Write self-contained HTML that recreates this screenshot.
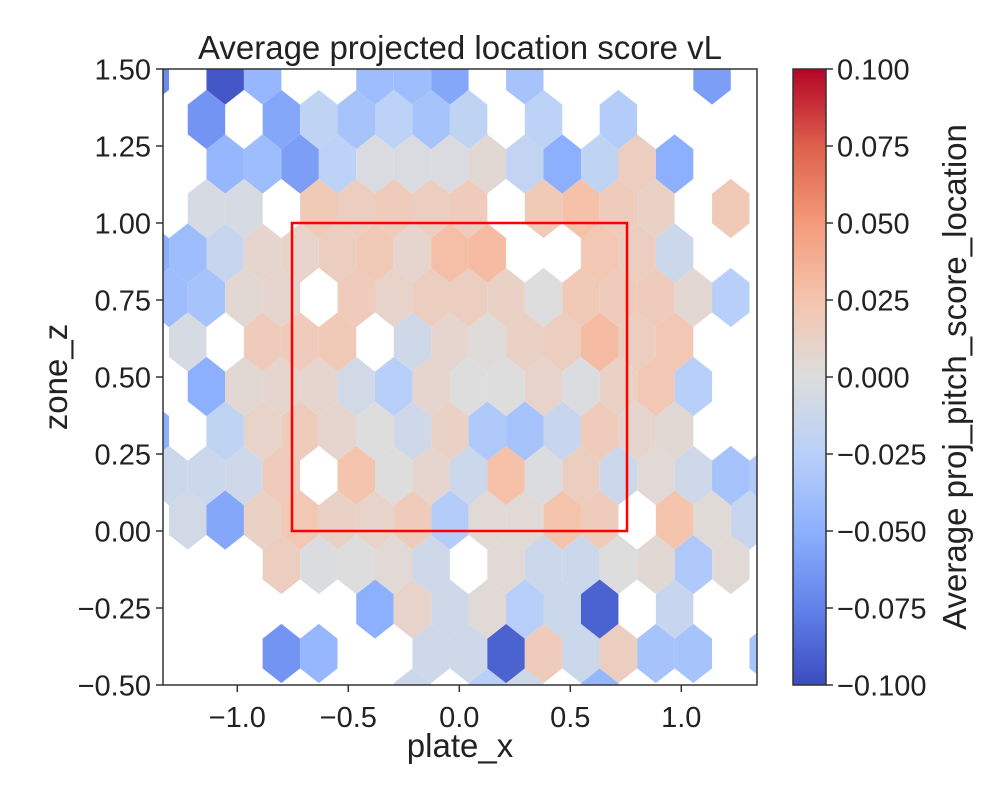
<!DOCTYPE html>
<html><head><meta charset="utf-8"><style>
html,body{margin:0;padding:0;background:#fff;}
svg{display:block;font-family:"Liberation Sans","DejaVu Sans",sans-serif;}
</style></head><body>
<svg id="chart" width="1000" height="800" viewBox="0 0 1000 800" xmlns="http://www.w3.org/2000/svg">
<defs>
<clipPath id="plotclip"><rect x="163" y="69" width="594" height="616"/></clipPath>
<linearGradient id="cbgrad" x1="0" y1="1" x2="0" y2="0">
<stop offset="0" stop-color="rgb(59,76,192)"/><stop offset="0.125" stop-color="rgb(98,130,234)"/>
<stop offset="0.25" stop-color="rgb(141,176,254)"/><stop offset="0.375" stop-color="rgb(184,208,249)"/>
<stop offset="0.5" stop-color="rgb(221,221,221)"/><stop offset="0.625" stop-color="rgb(245,196,173)"/>
<stop offset="0.75" stop-color="rgb(244,154,123)"/><stop offset="0.875" stop-color="rgb(222,96,77)"/>
<stop offset="1" stop-color="rgb(180,4,38)"/>
</linearGradient>
</defs>
<g id="hexes" clip-path="url(#plotclip)"></g>
<rect x="292" y="223" width="335" height="308" fill="none" stroke="#ff0000" stroke-width="2.5"/>
<rect x="163" y="69" width="594" height="616" fill="none" stroke="#333" stroke-width="1.5"/>
<g id="axes"></g>
<text x="460" y="59" font-size="33" text-anchor="middle" fill="#222">Average projected location score vL</text>
<text x="460" y="757" font-size="33" text-anchor="middle" fill="#222">plate_x</text>
<text transform="translate(67,377) rotate(-90)" font-size="33" text-anchor="middle" fill="#222">zone_z</text>
<rect x="793" y="69" width="33" height="616" fill="url(#cbgrad)" stroke="#333" stroke-width="1.5"/>
<text transform="translate(966,377) rotate(-90)" font-size="33" text-anchor="middle" fill="#222">Average proj_pitch_score_location</text>
</svg>
<script>
const N = null;
// grid (data units): row k center y = rowY0 + k*rowDy ; even rows x = xEven0 + n*colDx ; odd rows offset by -colDx/2
const rowY0 = -0.3977, rowDy = 0.14448, xEven0 = -1.3076, colDx = 0.1687;
const rowIndex = [-1,0,1,2,3,4,5,6,7,8,9,10,11,12,13];
const rowM1 = [N,N,N,N,N,N,N,-0.012,N,-0.025,-0.01,N,-0.045,N,N,N,N];
const row0 = [N,N,N,-0.065,-0.045,N,N,-0.01,-0.01,-0.09,0.018,-0.012,0.015,-0.035,-0.035,N,-0.035];
const row1 = [N,N,N,N,N,N,-0.05,0.01,-0.01,0.004,-0.025,-0.012,-0.09,N,-0.015,N,N];
const row2 = [N,N,N,0.015,-0.002,0,0.004,-0.01,N,0.004,-0.012,-0.012,0,0.005,-0.03,0.004,N];
const row3 = [N,-0.008,-0.055,0.012,0.022,0.012,0.01,0.018,-0.028,0.004,0.004,0.025,0.018,N,0.025,0.003,-0.015];
const row4 = [-0.012,-0.012,-0.01,0.018,N,0.025,0,0.008,-0.012,0.027,-0.002,0.015,-0.012,0.004,-0.01,-0.035,-0.03];
const row5 = [-0.05,N,-0.02,0.01,0.018,0.008,0,-0.01,0.012,-0.03,-0.035,-0.015,0.018,0.008,0.005,N,N];
const row6 = [N,-0.05,0.005,0.008,0.008,-0.008,-0.025,0.008,0,0,0.01,-0.002,0.012,0.022,-0.025,N,N];
const row7 = [N,-0.005,N,0.018,0.018,0.02,N,-0.01,0.008,0.002,0.012,0.015,0.03,0.015,0.022,N,N];
const row8 = [-0.04,-0.035,0.005,0.008,N,0.018,0.01,0.015,0.015,0.012,0,0.02,0.018,0.018,0.006,-0.025,N];
const row9 = [-0.05,-0.04,-0.015,0.008,0.01,0.015,0.02,0.008,0.028,0.03,N,N,0.022,0.015,-0.012,N,N];
const row10 = [N,-0.005,-0.005,N,0.02,0.015,0.018,0.015,0.018,N,0.02,0.027,0.018,0.012,N,0.02,N];
const row11 = [N,N,-0.045,-0.04,-0.06,-0.022,-0.003,-0.003,-0.003,0.005,-0.018,-0.05,-0.02,0.015,-0.05,N,N];
const row12 = [N,-0.065,N,-0.055,-0.02,-0.035,-0.022,-0.035,-0.02,N,-0.022,N,-0.028,N,N,N,N];
const row13 = [-0.07,N,-0.095,-0.045,N,N,-0.04,-0.04,-0.055,N,-0.035,N,N,N,N,-0.06,N];
const rows = [rowM1,row0,row1,row2,row3,row4,row5,row6,row7,row8,row9,row10,row11,row12,row13];
const xTicks = [-1.0,-0.5,0.0,0.5,1.0];
const xTickLabels = ["\u22121.0","\u22120.5","0.0","0.5","1.0"];
const yTicks = [-0.5,-0.25,0,0.25,0.5,0.75,1.0,1.25,1.5];
const yTickLabels = ["\u22120.50","\u22120.25","0.00","0.25","0.50","0.75","1.00","1.25","1.50"];
const cTicks = [-0.1,-0.075,-0.05,-0.025,0,0.025,0.05,0.075,0.1];
const cTickLabels = ["\u22120.100","\u22120.075","\u22120.050","\u22120.025","0.000","0.025","0.050","0.075","0.100"];

const xS = v => 459.3 + 222*v;
const yS = v => 685 - 308*(v+0.5);
const cS = v => 685 - 616*(v+0.1)/0.2;
const cmap = [[59,76,192],[98,130,234],[141,176,254],[184,208,249],[221,221,221],[245,196,173],[244,154,123],[222,96,77],[180,4,38]];
function color(v){
  let t = Math.max(0,Math.min(1,(v+0.1)/0.2))*8;
  let i = Math.min(7,Math.floor(t)), f = t-i;
  const a=cmap[i], b=cmap[i+1];
  return `rgb(${Math.round(a[0]+(b[0]-a[0])*f)},${Math.round(a[1]+(b[1]-a[1])*f)},${Math.round(a[2]+(b[2]-a[2])*f)})`;
}
const NS = "http://www.w3.org/2000/svg";
const hexG = document.getElementById('hexes');
const hw = (xS(colDx)-xS(0))/2;
const hh = (yS(0)-yS(2*rowDy))/3;
rows.forEach((vals, ri) => {
  const k = rowIndex[ri];
  const cy = yS(rowY0 + k*rowDy);
  const odd = ((k%2)+2)%2 === 1;
  vals.forEach((v, n) => {
    if (v === null) return;
    const cx = xS(xEven0 + n*colDx - (odd ? colDx/2 : 0));
    const p = document.createElementNS(NS,'polygon');
    const pts = [[cx+hw,cy-hh/2],[cx+hw,cy+hh/2],[cx,cy+hh],[cx-hw,cy+hh/2],[cx-hw,cy-hh/2],[cx,cy-hh]];
    p.setAttribute('points', pts.map(q=>q[0].toFixed(2)+','+q[1].toFixed(2)).join(' '));
    p.setAttribute('fill', color(v));
    
    
    hexG.appendChild(p);
  });
});
const ax = document.getElementById('axes');
function line(x1,y1,x2,y2,name){
  const l=document.createElementNS(NS,'line');
  l.setAttribute('x1',x1);l.setAttribute('y1',y1);l.setAttribute('x2',x2);l.setAttribute('y2',y2);
  l.setAttribute('stroke','#333');l.setAttribute('stroke-width','1.5');
  
  
  ax.appendChild(l);
}
function text(x,y,s,anchor,name){
  const t=document.createElementNS(NS,'text');
  t.setAttribute('x',x);t.setAttribute('y',y);t.setAttribute('font-size','29');
  t.setAttribute('text-anchor',anchor);t.setAttribute('fill','#222');
  t.textContent=s;
  
  
  ax.appendChild(t);
}
xTicks.forEach((v,i)=>{ const x=xS(v); line(x,685,x,692,'x-tick'); text(x,727,xTickLabels[i],'middle','x-tick-label'); });
yTicks.forEach((v,i)=>{ const y=yS(v); line(156,y,163,y,'y-tick'); text(151,y+10.5,yTickLabels[i],'end','y-tick-label'); });
cTicks.forEach((v,i)=>{ const y=cS(v); line(826,y,833,y,'colorbar-tick'); text(837,y+10.5,cTickLabels[i],'start','colorbar-tick-label'); });
</script>
</body></html>
